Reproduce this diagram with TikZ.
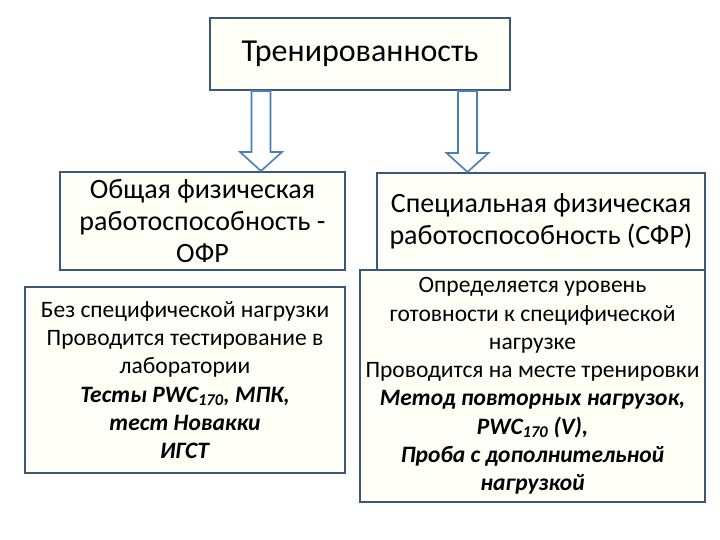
\documentclass[tikz,border=0pt]{standalone}
\usepackage{fontspec}
\setmainfont{Carlito}
\usepackage{xcolor}
\usetikzlibrary{calc}

\definecolor{boxline}{HTML}{3B5878}
\definecolor{boxfill}{HTML}{FFFFF8}
\definecolor{arrline}{HTML}{4A7EBB}

\newcommand{\idx}[1]{\textsubscript{#1}}
% hollow block arrow from #1 straight down to #2
\newcommand{\downarr}[2]{%
  \draw[blockarr] let \p1=(#1), \p2=(#2) in
    (\x1-9.5pt,\y1) -- (\x1+9.5pt,\y1) -- (\x1+9.5pt,\y2+19pt)
    -- (\x1+21pt,\y2+19pt) -- (\x1,\y2) -- (\x1-21pt,\y2+19pt)
    -- (\x1-9.5pt,\y2+19pt) -- cycle;}

\begin{document}
\begin{tikzpicture}[
    x=1pt, y=-1pt,
    box/.style={draw=boxline, line width=2pt, fill=boxfill, align=center,
                inner sep=0pt},
    blockarr/.style={draw=arrline, line width=1.6pt, fill=white, line join=miter},
    big/.style={font=\fontsize{32}{36}\selectfont},
    mid/.style={font=\fontsize{28}{32}\selectfont},
    small/.style={font=\fontsize{23.5}{28.3}\selectfont}
]
\useasboundingbox[fill=white] (0,0) rectangle (720,540);

\node[box, big, minimum width=300pt, minimum height=72pt] (train) at (360,54) {Тренированность};
\node[box, mid, minimum width=285pt, minimum height=98pt] (ofp) at (202.5,221)
    {Общая физическая\\работоспособность -\\ОФР};
\node[box, mid, minimum width=328pt, minimum height=97pt] (sfp) at (541,221.5)
    {Специальная физическая\\работоспособность (СФР)};
\node[box, small, minimum width=320pt, minimum height=186pt] (ofptest) at (185,380)
    {Без специфической нагрузки\\Проводится тестирование в\\лаборатории\\
     \textbf{\textit{Тесты PWC\idx{170}, МПК,}}\\\textbf{\textit{тест Новакки}}\\
     \textbf{\textit{ИГСТ}}};
\node[box, small, minimum width=345pt, minimum height=232pt] (sfptest) at (532.5,386)
    {Определяется уровень\\готовности к специфической\\нагрузке\\
     Проводится на месте тренировки\\\textbf{\textit{Метод повторных нагрузок,}}\\
     \textbf{\textit{PWC\idx{170} (V),}}\\\textbf{\textit{Проба с дополнительной}}\\
     \textbf{\textit{нагрузкой}}};

\downarr{[xshift=-99pt]train.south}{[xshift=-99pt]train.south |- ofp.north}
\downarr{[xshift=107.5pt]train.south}{[xshift=107.5pt]train.south |- sfp.north}
\end{tikzpicture}
\end{document}
